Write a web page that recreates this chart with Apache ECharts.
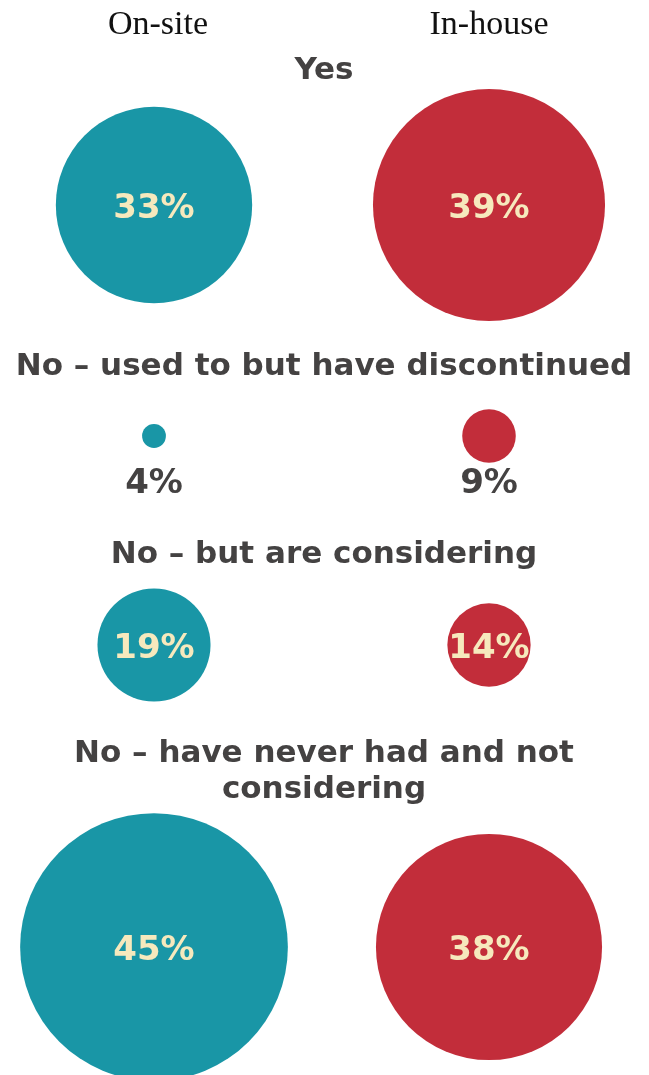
<!DOCTYPE html>
<html>
<head>
<meta charset="utf-8">
<script src="https://cdn.jsdelivr.net/npm/echarts@6/dist/echarts.min.js"></script>
<style>
  html, body { margin: 0; padding: 0; background: #ffffff; }
  #chart { width: 649px; height: 1075px; }
</style>
</head>
<body>
<div id="chart"></div>
<script>
// Survey answers, share of respondents per provision type
const columns = ['On-site', 'In-house'];
const questions = [
  'Yes',
  'No – used to but have discontinued',
  'No – but are considering',
  'No – have never had and not\nconsidering'
];
const onSite = [33, 4, 19, 45];
const inHouse = [39, 9, 14, 38];

// Layout
const rowCenters = [205, 436, 645, 947];
const titleTops = [53, 349, 537, 736];
const TEAL = '#1996a6';
const RED = '#c22d3a';
const CREAM = '#f6e9bd';
const DARK = '#444242';
const SANS = 'DejaVu Sans';
const SERIF = 'Liberation Serif';
const PX_PER_POINT = 5.95; // bubble diameter per percentage point

const grids = [], xAxes = [], yAxes = [], series = [];
rowCenters.forEach(function (cy, i) {
  grids.push({ left: 154, right: 160, top: cy - 10, height: 20 });
  xAxes.push({ gridIndex: i, type: 'category', data: columns, boundaryGap: false, show: false });
  yAxes.push({ gridIndex: i, type: 'value', min: -1, max: 1, show: false });
  const below = i === 1; // tiny bubbles: value printed underneath
  series.push({
    type: 'scatter',
    xAxisIndex: i,
    yAxisIndex: i,
    symbol: 'circle',
    symbolSize: function (val) { return val[2] * PX_PER_POINT; },
    silent: true,
    itemStyle: { opacity: 1 },
    label: {
      show: true,
      position: 'inside',
      offset: below ? [0, 48] : [0, 4],
      formatter: function (p) { return p.value[2] + '%'; },
      fontFamily: SANS,
      fontWeight: 'bold',
      fontSize: 34,
      color: below ? DARK : CREAM
    },
    data: [
      { value: [columns[0], 0, onSite[i]], itemStyle: { color: TEAL } },
      { value: [columns[1], 0, inHouse[i]], itemStyle: { color: RED } }
    ]
  });
});

const titles = [
  { text: columns[0], left: 158, top: 8, textAlign: 'center', padding: 0,
    textStyle: { fontFamily: SERIF, fontWeight: 'normal', fontSize: 34, color: '#111111' } },
  { text: columns[1], left: 489, top: 8, textAlign: 'center', padding: 0,
    textStyle: { fontFamily: SERIF, fontWeight: 'normal', fontSize: 34, color: '#111111' } }
];
questions.forEach(function (q, i) {
  titles.push({
    text: q, left: 324, top: titleTops[i], textAlign: 'center', padding: 0,
    textStyle: { fontFamily: SANS, fontWeight: 'bold', fontSize: 31, lineHeight: 36, color: DARK }
  });
});

const chart = echarts.init(document.getElementById('chart'), null, { renderer: 'canvas' });
chart.setOption({
  backgroundColor: '#ffffff',
  animation: false,
  title: titles,
  grid: grids,
  xAxis: xAxes,
  yAxis: yAxes,
  series: series
});
</script>
</body>
</html>
